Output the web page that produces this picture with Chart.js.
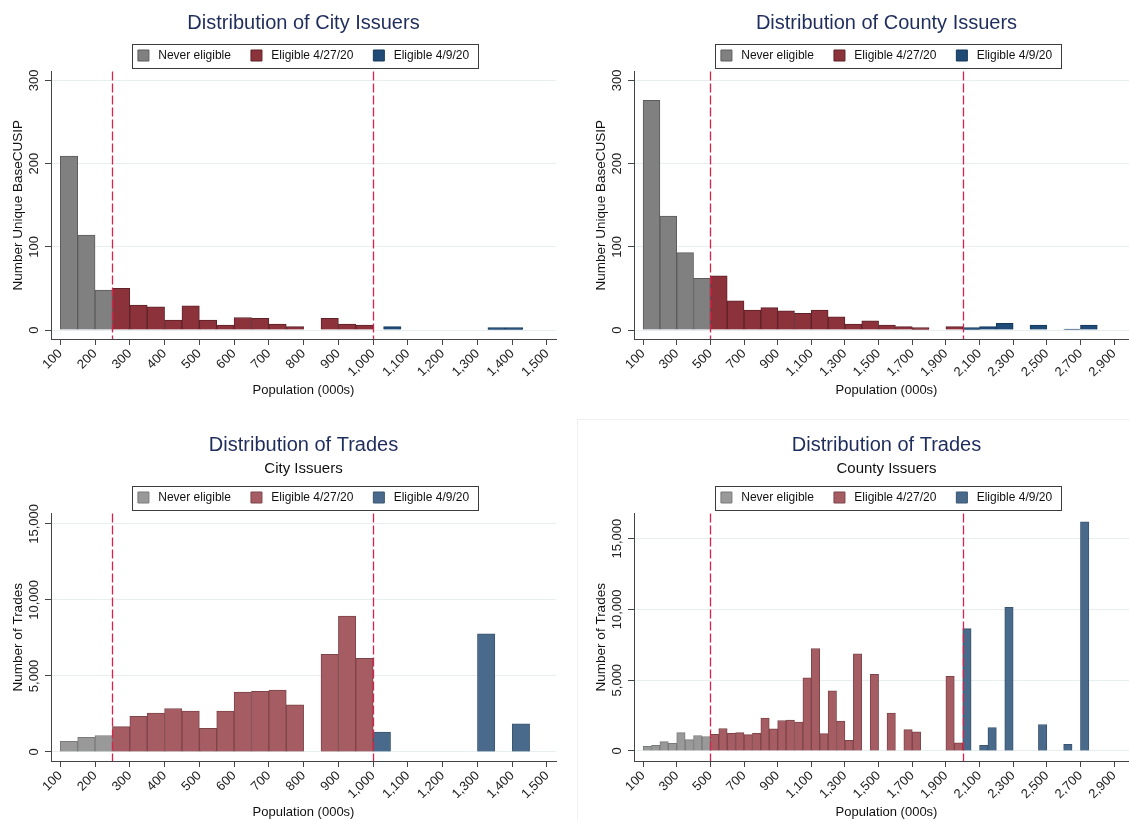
<!DOCTYPE html>
<html>
<head>
<meta charset="utf-8">
<script src="https://cdn.jsdelivr.net/npm/chart.js@4.4.1/dist/chart.umd.min.js"></script>
<style>
  body { margin: 0; width: 1129px; height: 820px; overflow: hidden; background: #fff; position: relative; }
  .panel { position: absolute; }
  #frame { position: absolute; left: 577px; top: 419px; width: 600px; height: 450px; border: 1px solid #f0f0f0; }
</style>
</head>
<body>
<div id="frame"></div>
<canvas class="panel" id="cityCount" width="565" height="398" style="left:0;top:0"></canvas>
<canvas class="panel" id="countyCount" width="556" height="398" style="left:583px;top:0"></canvas>
<canvas class="panel" id="cityTrades" width="565" height="410" style="left:0;top:410px"></canvas>
<canvas class="panel" id="countyTrades" width="556" height="410" style="left:583px;top:410px"></canvas>

<script>
// ---- data: histogram bins (lower edge, population in 000s) and heights ----

// City issuers, number of unique BaseCUSIPs (bin width 50)
const cityCountNeverBins = [100, 150, 200];
const cityCountNever = [209, 114, 48];
const cityCountLateBins = [250, 300, 350, 400, 450, 500, 550, 600, 650, 700, 750, 850, 900, 950];
const cityCountLate = [50, 30, 28, 12, 29, 12, 6, 15, 14, 7, 4, 14, 7, 6];
const cityCountEarlyBins = [1030, 1330, 1380];
const cityCountEarly = [4, 3, 3];

// County issuers, number of unique BaseCUSIPs (bin width 100)
const countyCountNeverBins = [100, 200, 300, 400];
const countyCountNever = [276, 137, 93, 62];
const countyCountLateBins = [500, 600, 700, 800, 900, 1000, 1100, 1200, 1300, 1400, 1500, 1600, 1700, 1900];
const countyCountLate = [65, 35, 24, 27, 23, 20, 24, 16, 7, 11, 6, 4, 3, 4];
const countyCountEarlyBins = [2000, 2100, 2200, 2400, 2600, 2700];
const countyCountEarly = [3, 4, 8, 6, 1, 6];

// City issuers, number of trades (bin width 50)
const cityTradesNeverBins = [100, 150, 200];
const cityTradesNever = [700, 970, 1080];
const cityTradesLateBins = [250, 300, 350, 400, 450, 500, 550, 600, 650, 700, 750, 850, 900, 950];
const cityTradesLate = [1670, 2350, 2550, 2860, 2680, 1560, 2680, 3940, 3980, 4070, 3100, 6420, 8930, 6160];
const cityTradesEarlyBins = [1000, 1300, 1400];
const cityTradesEarly = [1300, 7770, 1850];

// County issuers, number of trades (bin width 50)
const countyTradesNeverBins = [100, 150, 200, 250, 300, 350, 400, 450];
const countyTradesNever = [330, 400, 660, 540, 1300, 800, 1090, 1020];
const countyTradesLateBins = [500, 550, 600, 650, 700, 750, 800, 850, 900, 950, 1000, 1050, 1100, 1150,
                              1200, 1250, 1300, 1350, 1450, 1550, 1650, 1700, 1900, 1950];
const countyTradesLate = [1180, 1590, 1250, 1300, 1160, 1250, 2320, 1560, 2150, 2180, 2040, 5160, 7240, 1230,
                          4240, 2110, 760, 6860, 5420, 2670, 1510, 1350, 5280, 570];
const countyTradesEarlyBins = [2000, 2100, 2150, 2250, 2450, 2600, 2700];
const countyTradesEarly = [8640, 400, 1660, 10150, 1870, 470, 16180];

// eligibility cutoffs (dashed lines)
const cityCutoffs = [250, 1000];
const countyCutoffs = [500, 2000];

// axis ticks
const cityXTicks = [100, 200, 300, 400, 500, 600, 700, 800, 900, 1000, 1100, 1200, 1300, 1400, 1500];
const countyXTicks = [100, 300, 500, 700, 900, 1100, 1300, 1500, 1700, 1900, 2100, 2300, 2500, 2700, 2900];
const countYTicks = [0, 100, 200, 300];
const tradeYTicks = [0, 5000, 10000, 15000];

const seriesNames = ['Never eligible', 'Eligible 4/27/20', 'Eligible 4/9/20'];

// ---- styling ----
Chart.defaults.font.family = "'Liberation Sans', Arial, sans-serif";
Chart.defaults.color = '#222';

const navy = '#1e2d5c';
const axisGrey = '#444';
const gridColor = '#e6eef0';
const cutoffColor = '#d8234d';

const darkColors = { fill: ['#808080', '#8b323b', '#1f4b76'], edge: ['#5c5c5c', '#5e2229', '#163a5c'] };
const lightColors = { fill: ['#999999', '#a65c63', '#4a6a8b'], edge: ['#7a7a7a', '#7d454a', '#3a5470'] };

// dashed vertical cutoff lines
const cutoffLines = {
  id: 'cutoffLines',
  afterDatasetsDraw(chart, args, opts) {
    const { ctx, chartArea, scales: { x } } = chart;
    ctx.save();
    ctx.strokeStyle = cutoffColor;
    ctx.lineWidth = 1.3;
    ctx.setLineDash([9, 3]);
    (opts.values || []).forEach(v => {
      const px = Math.round(x.getPixelForValue(v)) + 0.5;
      ctx.beginPath();
      ctx.moveTo(px, chartArea.top);
      ctx.lineTo(px, chartArea.bottom);
      ctx.stroke();
    });
    ctx.restore();
  }
};

// box around the legend, Stata style
const legendFrame = {
  id: 'legendFrame',
  afterDraw(chart) {
    const hb = chart.legend && chart.legend.legendHitBoxes;
    if (!hb || !hb.length) return;
    const first = hb[0], last = hb[hb.length - 1];
    const left = Math.round(first.left - 6) + 0.5;
    const right = Math.round(last.left + last.width + 9) + 0.5;
    const top = Math.round(first.top - 6) + 0.5;
    const ctx = chart.ctx;
    ctx.save();
    ctx.strokeStyle = '#3c3c3c';
    ctx.lineWidth = 1;
    ctx.strokeRect(left, top, right - left, 24);
    ctx.restore();
  }
};

function histogram(label, bins, heights, width, fill, edge) {
  return {
    label: label,
    data: bins.map((b, i) => ({ x: b + width / 2, y: heights[i] })),
    backgroundColor: fill,
    borderColor: edge,
    borderWidth: 1,
    grouped: false,
    categoryPercentage: 1,
    barPercentage: 1
  };
}

function makePanel(id, p) {
  const groups = [
    [p.neverBins, p.never],
    [p.lateBins, p.late],
    [p.earlyBins, p.early]
  ];
  return new Chart(document.getElementById(id), {
    type: 'bar',
    data: {
      datasets: groups.map((g, i) =>
        histogram(seriesNames[i], g[0], g[1], p.binWidth, p.colors.fill[i], p.colors.edge[i]))
    },
    options: {
      responsive: false,
      animation: false,
      locale: 'en-US',
      layout: { padding: { left: 0, right: p.padRight, top: 0, bottom: 0 } },
      plugins: {
        title: {
          display: true,
          text: p.title,
          fullSize: false,
          color: navy,
          font: { size: 20, weight: 'normal' },
          padding: p.titlePad
        },
        subtitle: {
          display: !!p.subtitle,
          text: p.subtitle || '',
          fullSize: false,
          color: '#111',
          font: { size: 15 },
          padding: { top: 2.5, bottom: 4 }
        },
        legend: {
          display: true,
          position: 'top',
          fullSize: false,
          labels: {
            boxWidth: 11,
            boxHeight: 11,
            padding: 10,
            color: '#111',
            font: { size: 12 },
            generateLabels: chart =>
              Chart.defaults.plugins.legend.labels.generateLabels(chart).map((item, i, all) =>
                Object.assign(item, { text: ' ' + item.text + (i < all.length - 1 ? '   ' : '') }))
          }
        },
        tooltip: { enabled: false },
        cutoffLines: { values: p.cutoffs }
      },
      scales: {
        x: {
          type: 'linear',
          offset: false,
          min: p.xMin,
          max: p.xMax,
          afterBuildTicks: s => { s.ticks = p.xTicks.map(v => ({ value: v })); },
          afterFit: s => { s.height = 59; },
          border: { color: axisGrey, width: 1 },
          grid: { offset: false, drawOnChartArea: false, drawTicks: true, tickLength: 6, tickColor: axisGrey },
          ticks: { autoSkip: false, minRotation: 45, maxRotation: 45, padding: 1, color: '#222', font: { size: 13 } },
          title: { display: true, text: 'Population (000s)', color: '#111', font: { size: 13 }, padding: { top: 0, bottom: 0 } }
        },
        y: {
          type: 'linear',
          min: p.yMin,
          max: p.yMax,
          afterBuildTicks: s => { s.ticks = p.yTicks.map(v => ({ value: v })); },
          afterFit: s => { s.width = 51; },
          border: { color: axisGrey, width: 1 },
          grid: { color: gridColor, lineWidth: 1, drawTicks: true, tickLength: 6, tickColor: axisGrey },
          ticks: { minRotation: 90, maxRotation: 90, crossAlign: 'center', padding: p.yTickPad, color: '#222', font: { size: 13 } },
          title: { display: true, text: p.yTitle, color: '#111', font: { size: 13.5 }, padding: { top: 10, bottom: 0 } }
        }
      }
    },
    plugins: [cutoffLines, legendFrame]
  });
}

// 1. City issuers - counts
makePanel('cityCount', {
  title: 'Distribution of City Issuers',
  titlePad: { top: 11.5, bottom: 4 },
  yTitle: 'Number Unique BaseCUSIP',
  neverBins: cityCountNeverBins, never: cityCountNever,
  lateBins: cityCountLateBins, late: cityCountLate,
  earlyBins: cityCountEarlyBins, early: cityCountEarly,
  binWidth: 50, colors: darkColors, cutoffs: cityCutoffs,
  xMin: 73.3, xMax: 1525.9, xTicks: cityXTicks,
  yMin: -10.8, yMax: 310.8, yTicks: countYTicks, yTickPad: 0,
  padRight: 9
});

// 2. County issuers - counts
makePanel('countyCount', {
  title: 'Distribution of County Issuers',
  titlePad: { top: 11.5, bottom: 4 },
  yTitle: 'Number Unique BaseCUSIP',
  neverBins: countyCountNeverBins, never: countyCountNever,
  lateBins: countyCountLateBins, late: countyCountLate,
  earlyBins: countyCountEarlyBins, early: countyCountEarly,
  binWidth: 100, colors: darkColors, cutoffs: countyCutoffs,
  xMin: 46, xMax: 3048, xTicks: countyXTicks,
  yMin: -10.8, yMax: 310.8, yTicks: countYTicks, yTickPad: 0,
  padRight: 0
});

// 3. Trades - city issuers
makePanel('cityTrades', {
  title: 'Distribution of Trades',
  subtitle: 'City Issuers',
  titlePad: { top: 23, bottom: 0 },
  yTitle: 'Number of Trades',
  neverBins: cityTradesNeverBins, never: cityTradesNever,
  lateBins: cityTradesLateBins, late: cityTradesLate,
  earlyBins: cityTradesEarlyBins, early: cityTradesEarly,
  binWidth: 50, colors: lightColors, cutoffs: cityCutoffs,
  xMin: 73.3, xMax: 1525.9, xTicks: cityXTicks,
  yMin: -594, yMax: 15679, yTicks: tradeYTicks, yTickPad: -9,
  padRight: 9
});

// 4. Trades - county issuers
makePanel('countyTrades', {
  title: 'Distribution of Trades',
  subtitle: 'County Issuers',
  titlePad: { top: 23, bottom: 0 },
  yTitle: 'Number of Trades',
  neverBins: countyTradesNeverBins, never: countyTradesNever,
  lateBins: countyTradesLateBins, late: countyTradesLate,
  earlyBins: countyTradesEarlyBins, early: countyTradesEarly,
  binWidth: 50, colors: lightColors, cutoffs: countyCutoffs,
  xMin: 46, xMax: 3048, xTicks: countyXTicks,
  yMin: -708, yMax: 16771, yTicks: tradeYTicks, yTickPad: -9,
  padRight: 0
});
</script>
</body>
</html>
